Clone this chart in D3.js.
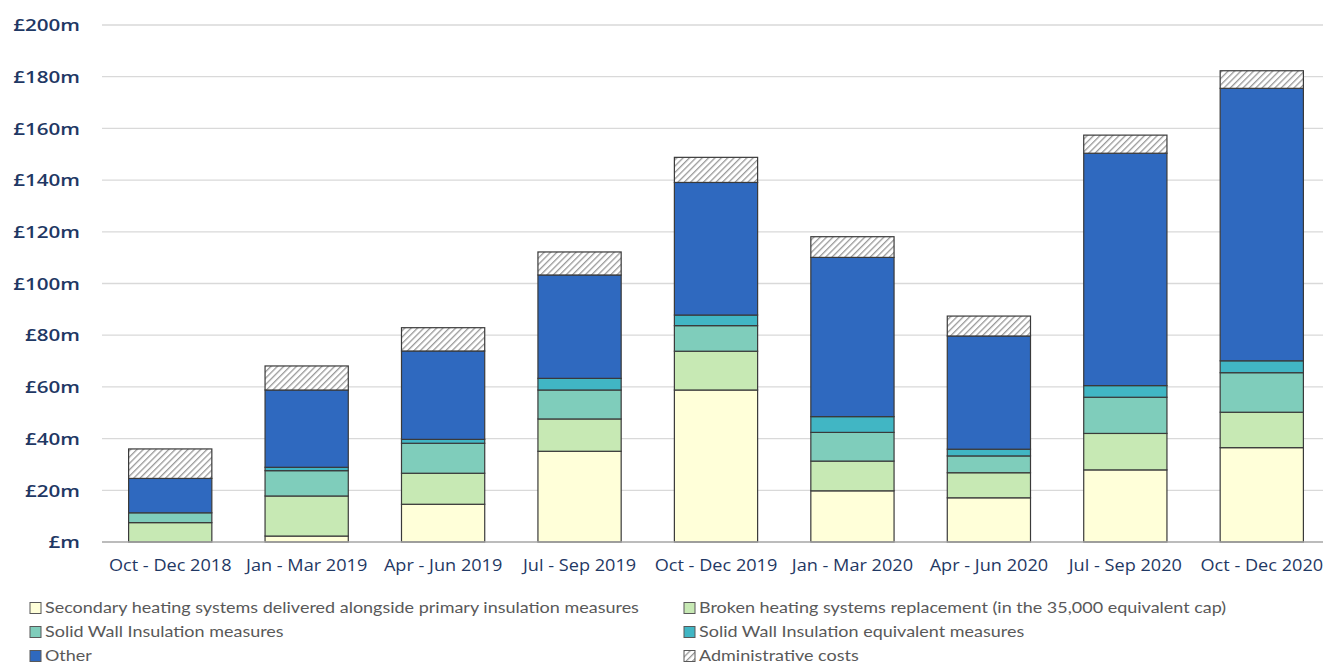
<!DOCTYPE html>
<html>
<head>
<meta charset="utf-8">
<script src="https://cdn.jsdelivr.net/npm/d3@7"></script>
<style>
  html, body { margin: 0; padding: 0; background: #fff; }
  svg { display: block; }
</style>
</head>
<body>
<svg id="chart" width="1323" height="665"></svg>
<script>
// Quarterly spend by measure type (£m)
const quarters = ["Oct - Dec 2018", "Jan - Mar 2019", "Apr - Jun 2019", "Jul - Sep 2019",
  "Oct - Dec 2019", "Jan - Mar 2020", "Apr - Jun 2020", "Jul - Sep 2020", "Oct - Dec 2020"];

const secondaryHeating = [0.0, 2.3, 14.6, 35.1, 58.8, 19.8, 17.1, 27.9, 36.5];
const brokenHeating    = [7.5, 15.5, 12.0, 12.5, 15.0, 11.5, 9.7, 14.1, 13.7];
const solidWall        = [3.8, 9.8, 11.6, 11.2, 9.9, 11.1, 6.5, 14.0, 15.3];
const solidWallEquiv   = [0.0, 1.3, 1.5, 4.5, 4.1, 6.1, 2.6, 4.5, 4.6];
const other            = [13.3, 29.9, 34.2, 40.0, 51.3, 61.6, 43.8, 89.9, 105.4];
const adminCosts       = [11.4, 9.3, 9.0, 8.9, 9.7, 8.0, 7.7, 7.0, 6.8];

const seriesNames = [
  "Secondary heating systems delivered alongside primary insulation measures",
  "Broken heating systems replacement (in the 35,000 equivalent cap)",
  "Solid Wall Insulation measures",
  "Solid Wall Insulation equivalent measures",
  "Other",
  "Administrative costs"
];
const yTicks = [0, 20, 40, 60, 80, 100, 120, 140, 160, 180, 200];

const seriesValues = [secondaryHeating, brokenHeating, solidWall, solidWallEquiv, other, adminCosts];
const fills = ["#FFFFD9", "#C7E9B4", "#7FCDBB", "#41B6C4", "#2F69BF", "url(#hatch)"];

const rows = quarters.map((q, i) => {
  const r = { quarter: q };
  seriesNames.forEach((s, k) => r[s] = seriesValues[k][i]);
  return r;
});
const stacked = d3.stack().keys(seriesNames)(rows);

const svg = d3.select("#chart");

// diagonal hatch used for administrative costs
const defs = svg.append("defs");
const pat = defs.append("pattern")
  .attr("id", "hatch")
  .attr("patternUnits", "userSpaceOnUse")
  .attr("width", 4.5).attr("height", 4.5)
  .attr("patternTransform", "rotate(45)");
pat.append("rect").attr("width", 4.5).attr("height", 4.5).attr("fill", "#fff");
pat.append("line").attr("x1", 0).attr("y1", 0).attr("x2", 0).attr("y2", 4.5)
  .attr("stroke", "#999").attr("stroke-width", 2.6);

const x = d3.scaleBand().domain(quarters).range([102, 1330]).paddingInner(0.39).paddingOuter(0.195);
const y = d3.scaleLinear().domain([0, 200]).range([542, 25]);

// gridlines
svg.append("g")
  .selectAll("line")
  .data(yTicks.filter(t => t > 0))
  .join("line")
  .attr("x1", 102).attr("x2", 1330)
  .attr("y1", d => y(d)).attr("y2", d => y(d))
  .attr("stroke", "#d9d9d9").attr("stroke-width", 1.3);

// y axis labels (wide lettering)
const yAxis = svg.append("g")
  .attr("transform", "translate(80,0)")
  .call(d3.axisLeft(y).tickValues(yTicks).tickSize(0).tickPadding(0)
    .tickFormat(d => d === 0 ? "£m" : `£${d}m`));
yAxis.select(".domain").remove();
yAxis.selectAll("text")
  .attr("x", 0)
  .attr("dy", "0.35em")
  .attr("transform", "scale(1.25,1)")
  .attr("fill", "#1F3864")
  .style("font-family", "'Open Sans', sans-serif")
  .style("font-weight", 600)
  .style("font-size", "16.5px");

// stacked bars
svg.append("g")
  .selectAll("g")
  .data(stacked)
  .join("g")
  .attr("fill", (d, i) => fills[i])
  .selectAll("rect")
  .data(d => d)
  .join("rect")
  .attr("x", d => x(d.data.quarter))
  .attr("width", x.bandwidth())
  .attr("y", d => y(d[1]))
  .attr("height", d => y(d[0]) - y(d[1]))
  .attr("stroke", "#3a3a3a")
  .attr("stroke-width", 1.2);

// baseline
svg.append("line")
  .attr("x1", 102).attr("x2", 1330)
  .attr("y1", y(0)).attr("y2", y(0))
  .attr("stroke", "#a6a6a6").attr("stroke-width", 1.5);

// x axis labels
const xAxis = svg.append("g")
  .attr("transform", `translate(0,${y(0)})`)
  .call(d3.axisBottom(x).tickSize(0).tickPadding(18));
xAxis.select(".domain").remove();
xAxis.selectAll("text")
  .attr("transform", "scale(1.17,1)")
  .attr("fill", "#1F3864")
  .style("font-family", "'Open Sans', sans-serif")
  .style("font-size", "15.5px");

// legend
const legendPos = [
  [30, 608], [684, 608],
  [30, 632], [684, 632],
  [30, 656], [684, 656]
];
const legend = svg.append("g")
  .selectAll("g")
  .data(seriesNames)
  .join("g")
  .attr("transform", (d, i) => `translate(${legendPos[i][0]},${legendPos[i][1]})`);
legend.append("rect")
  .attr("x", 0).attr("y", -5.5).attr("width", 11).attr("height", 11)
  .attr("fill", (d, i) => fills[i])
  .attr("stroke", "#595959").attr("stroke-width", 1);
legend.append("text")
  .attr("x", 0).attr("dy", "0.35em")
  .attr("transform", "translate(15,0) scale(1.24,1)")
  .attr("fill", "#595959")
  .style("font-family", "Lato, sans-serif")
  .style("font-size", "14.5px")
  .text(d => d);
</script>
</body>
</html>
